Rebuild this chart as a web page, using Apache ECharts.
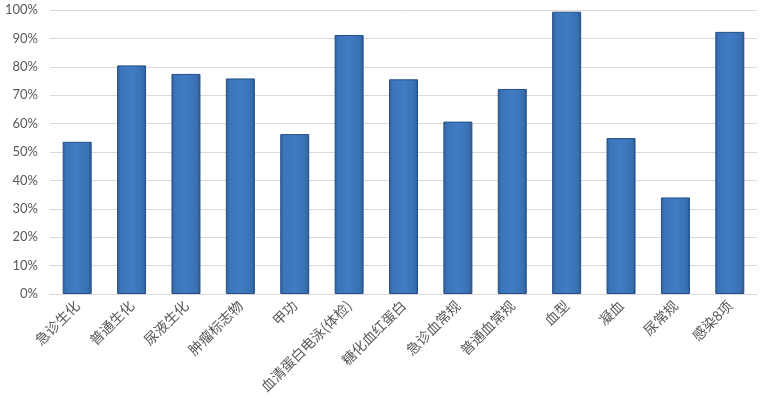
<!DOCTYPE html>
<html>
<head>
<meta charset="utf-8">
<script src="https://cdn.jsdelivr.net/npm/echarts@6/dist/echarts.min.js"></script>
<style>html,body{margin:0;padding:0;background:#fff;}#c{width:768px;height:409px;}</style>
</head>
<body>
<div id="c"></div>
<script>
var categories = ['急诊生化','普通生化','尿液生化','肿瘤标志物','甲功','血清蛋白电泳(体检)','糖化血红蛋白','急诊血常规','普通血常规','血型','凝血','尿常规','感染8项'];
var values = [53.6, 80.5, 77.5, 75.9, 56.3, 91.2, 75.6, 60.7, 72.2, 99.4, 54.9, 34.0, 92.3];
var yTicks = [0, 10, 20, 30, 40, 50, 60, 70, 80, 90, 100];

var chart = echarts.init(document.getElementById('c'));
chart.setOption({
  animation: false,
  grid: {left: 50, right: 11, top: 10, bottom: 115, containLabel: false},
  xAxis: {
    type: 'category',
    data: categories,
    axisLine: {lineStyle: {color: '#d9d9d9', width: 1}},
    axisTick: {show: false},
    axisLabel: {
      interval: 0, rotate: 45, color: '#595959', fontSize: 14,
      fontFamily: 'Noto Sans CJK SC', margin: 9
    }
  },
  yAxis: {
    type: 'value', min: 0, max: 100, interval: 10,
    axisLine: {show: false}, axisTick: {show: false},
    splitLine: {lineStyle: {color: '#d9d9d9', width: 1}},
    axisLabel: {
      color: '#595959', fontSize: 13, fontFamily: 'Lato', margin: 12,
      formatter: function (v) { return yTicks.indexOf(v) >= 0 ? v + '%' : ''; }
    }
  },
  series: [{
    type: 'bar',
    data: values,
    barWidth: 29,
    itemStyle: {
      borderColor: '#254f86', borderWidth: 1,
      color: new echarts.graphic.LinearGradient(0, 0, 1, 0, [
        {offset: 0, color: '#2f5e9a'},
        {offset: 0.12, color: '#3c74b8'},
        {offset: 0.5, color: '#3f7cc4'},
        {offset: 0.88, color: '#3a70b2'},
        {offset: 1, color: '#2a568f'}
      ])
    }
  }]
});
</script>
</body>
</html>
